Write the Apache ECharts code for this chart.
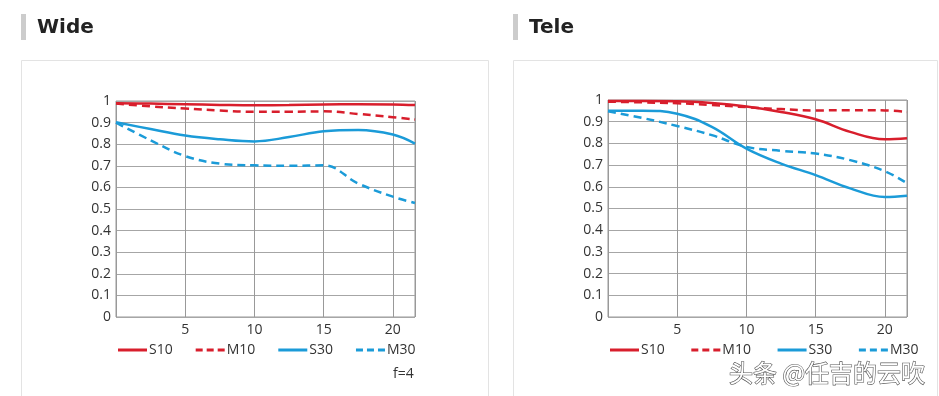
<!DOCTYPE html>
<html>
<head>
<meta charset="utf-8">
<script src="https://cdn.jsdelivr.net/npm/echarts@6/dist/echarts.min.js"></script>
<style>
  html,body{margin:0;padding:0;background:#fff;}
  #main{width:939px;height:396px;}
</style>
</head>
<body>
<div id="main"></div>
<script>
// 像高 (mm)
var xPos = [0, 2.5, 5, 7.5, 10, 12.5, 15, 17.5, 20, 21.6];
var xTicks = [5, 10, 15, 20];
var seriesNames = ['S10', 'M10', 'S30', 'M30'];

// Wide
var wideS10 = [0.99, 0.988, 0.985, 0.982, 0.98, 0.981, 0.984, 0.985, 0.984, 0.981];
var wideM10 = [0.988, 0.975, 0.965, 0.956, 0.95, 0.95, 0.952, 0.94, 0.925, 0.914];
var wideS30 = [0.902, 0.87, 0.84, 0.823, 0.813, 0.833, 0.86, 0.866, 0.845, 0.803];
var wideM30 = [0.9, 0.818, 0.745, 0.71, 0.702, 0.7, 0.702, 0.618, 0.557, 0.528];

// Tele
var teleS10 = [0.995, 0.995, 0.994, 0.986, 0.97, 0.945, 0.911, 0.853, 0.819, 0.824];
var teleM10 = [0.992, 0.989, 0.985, 0.977, 0.967, 0.958, 0.952, 0.953, 0.952, 0.945];
var teleS30 = [0.951, 0.951, 0.937, 0.876, 0.776, 0.707, 0.654, 0.593, 0.553, 0.559];
var teleM30 = [0.948, 0.917, 0.88, 0.838, 0.784, 0.766, 0.753, 0.723, 0.672, 0.616];

var red = '#d81e2c', blue = '#1b9bd8';
var fontFam = '"Open Sans", "Noto Sans", sans-serif';
// 图例图标: 实线 / 虚线
var solidIcon = 'path://M0,0H29V3H0Z';
var dashIcon = 'path://M0,0H7V3H0Z M11,0H18V3H11Z M22,0H29V3H22Z';

function pairs(ys){
    return xPos.map(function(x, i){ return [x, ys[i]]; });
}

function line(name, idx, ys, color, dashed){
    return {
        name: name, type: 'line', xAxisIndex: idx, yAxisIndex: idx,
        data: pairs(ys), smooth: 0.4, symbol: 'none', silent: true,
        lineStyle: {color: color, width: 2.5, type: dashed ? [8, 5] : 'solid'},
        itemStyle: {color: color}
    };
}

function xAx(idx){
    return {
        type: 'value', gridIndex: idx, min: 0, max: 21.6, interval: 5,
        axisLine: {show: false}, axisTick: {show: false},
        axisLabel: {
            color: '#333', fontSize: 14, fontFamily: fontFam, margin: 6,
            formatter: function(v){ return xTicks.indexOf(v) >= 0 ? String(v) : ''; }
        },
        splitLine: {show: true, lineStyle: {color: '#999', width: 1}}
    };
}
function yAx(idx){
    return {
        type: 'value', gridIndex: idx, min: 0, max: 1, interval: 0.1,
        axisLine: {show: false}, axisTick: {show: false},
        axisLabel: {color: '#333', fontSize: 14, fontFamily: fontFam, margin: 5},
        splitLine: {show: true, lineStyle: {color: '#a6a6a6', width: 1}}
    };
}
function legend(idx, left){
    var items = seriesNames.map(function(n){
        return {name: n + (idx ? ' ' : ''), icon: n.charAt(0) == 'M' ? dashIcon : solidIcon};
    });
    return {
        data: items, left: left, top: 338, itemWidth: 29, itemHeight: 3, itemGap: 23,
        selectedMode: false,
        textStyle: {color: '#333', fontSize: 14, fontFamily: fontFam, padding: [0, 0, 0, -3]}
    };
}

var myChart = echarts.init(document.getElementById('main'));
var option = {
    animation: false,
    backgroundColor: '#fff',
    grid: [
        {left: 116, top: 101, width: 299, height: 216, show: true, borderColor: '#999', borderWidth: 1},
        {left: 608, top: 100, width: 299, height: 217, show: true, borderColor: '#999', borderWidth: 1}
    ],
    xAxis: [xAx(0), xAx(1)],
    yAxis: [yAx(0), yAx(1)],
    legend: [legend(0, 113), legend(1, 605)],
    series: [
        line('S10', 0, wideS10, red, false),
        line('M10', 0, wideM10, red, true),
        line('S30', 0, wideS30, blue, false),
        line('M30', 0, wideM30, blue, true),
        line('S10 ', 1, teleS10, red, false),
        line('M10 ', 1, teleM10, red, true),
        line('S30 ', 1, teleS30, blue, false),
        line('M30 ', 1, teleM30, blue, true)
    ],
    graphic: [
        // 面板边框
        {type: 'rect', silent: true, z: -1, shape: {x: 21.5, y: 60.5, width: 467, height: 345},
            style: {fill: '#fff', stroke: '#e3e3e3', lineWidth: 1}},
        {type: 'rect', silent: true, z: -1, shape: {x: 513.5, y: 60.5, width: 424, height: 345},
            style: {fill: '#fff', stroke: '#e3e3e3', lineWidth: 1}},
        // 标题竖条
        {type: 'rect', silent: true, shape: {x: 21, y: 14, width: 5, height: 26}, style: {fill: '#cccccc'}},
        {type: 'rect', silent: true, shape: {x: 513, y: 14, width: 5, height: 26}, style: {fill: '#cccccc'}},
        {type: 'text', silent: true, x: 37, y: 28, style: {text: 'Wide', fill: '#222', font: 'bold 20px "DejaVu Sans", Verdana, sans-serif', verticalAlign: 'middle'}},
        {type: 'text', silent: true, x: 529, y: 28, style: {text: 'Tele', fill: '#222', font: 'bold 20px "DejaVu Sans", Verdana, sans-serif', verticalAlign: 'middle'}},
        {type: 'text', silent: true, x: 393, y: 374, style: {text: 'f=4', fill: '#333', font: '14px "Open Sans", sans-serif', verticalAlign: 'middle'}},
        // 水印
        {type: 'text', silent: true, x: 729, y: 373, z: 100, style: {text: '头条 @任吉的云吹', fill: '#fff', stroke: '#555', lineWidth: 1.2,
            font: '24px "Noto Sans CJK SC", sans-serif', verticalAlign: 'middle'}}
    ]
};
myChart.setOption(option);
</script>
</body>
</html>
